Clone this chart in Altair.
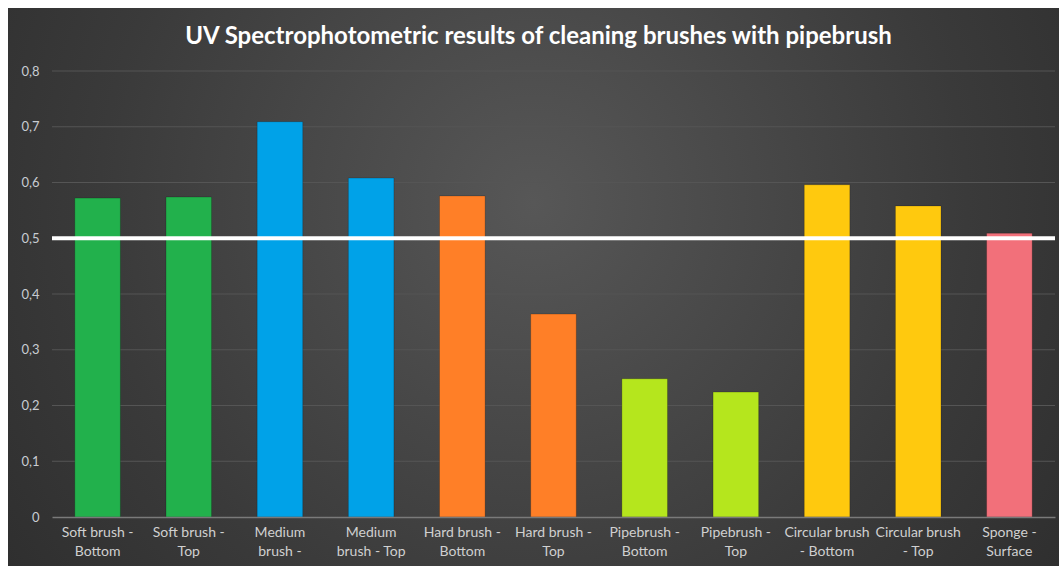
import json
import altair as alt
import pandas as pd

title_text = "UV Spectrophotometric results of cleaning brushes with pipebrush"
categories = ["Soft brush - Bottom", "Soft brush - Top", "Medium brush - Bottom",
              "Medium brush - Top", "Hard brush - Bottom", "Hard brush - Top",
              "Pipebrush - Bottom", "Pipebrush - Top", "Circular brush - Bottom",
              "Circular brush - Top", "Sponge - Surface"]
values = [0.572, 0.574, 0.709, 0.608, 0.576, 0.364, 0.248, 0.224, 0.596, 0.558, 0.509]
colors = ["#22b14c", "#22b14c", "#00a2e8", "#00a2e8", "#ff7f27", "#ff7f27",
          "#b5e61d", "#b5e61d", "#ffc90e", "#ffc90e", "#f2707a"]
label_lines = [["Soft brush -", "Bottom"], ["Soft brush -", "Top"], ["Medium", "brush -"],
               ["Medium", "brush - Top"], ["Hard brush -", "Bottom"], ["Hard brush -", "Top"],
               ["Pipebrush -", "Bottom"], ["Pipebrush -", "Top"], ["Circular brush", "- Bottom"],
               ["Circular brush", "- Top"], ["Sponge -", "Surface"]]
grid_ticks = [0.1, 0.2, 0.3, 0.4, 0.5, 0.6, 0.7, 0.8]
threshold = [0.5]

FONT = "Lato"
W, H = 1003, 446
PAD = {"left": 52, "top": 71, "right": 4, "bottom": 49}

df = pd.DataFrame({"cat": categories, "val": values})
label_map = json.dumps(dict(zip(categories, label_lines)))

xscale = alt.Scale(domain=categories, paddingInner=0.5, paddingOuter=0.25)
yscale = alt.Scale(domain=[0, 0.8], nice=False)

bg = alt.Chart(pd.DataFrame({"a": [0]})).mark_rect(
    fill=alt.RadialGradient(
        gradient="radial", x1=0.5, y1=0.42, r1=0, x2=0.5, y2=0.42, r2=0.75,
        stops=[alt.GradientStop(color="#575757", offset=0),
               alt.GradientStop(color="#3a3a3a", offset=0.55),
               alt.GradientStop(color="#272727", offset=1)]),
    stroke=None,
).encode(x=alt.value(-44), x2=alt.value(W + 4), y=alt.value(-63), y2=alt.value(H + 49))

title = alt.Chart(pd.DataFrame({"a": [0]})).mark_text(
    font=FONT, fontSize=24, fontWeight="bold", color="#ffffff",
    align="center", baseline="middle",
).encode(x=alt.value(W / 2 - 15), y=alt.value(-34), text=alt.value(title_text))

grid = alt.Chart(pd.DataFrame({"t": grid_ticks})).mark_rule(
    color="#555555", strokeWidth=1
).encode(y=alt.Y("t:Q", scale=yscale))

bars = alt.Chart(df).mark_bar(stroke="#00000033", strokeWidth=1).encode(
    x=alt.X("cat:N", scale=xscale, sort=categories, title=None,
            axis=alt.Axis(labelExpr=f"{label_map}[datum.value]", labelAngle=0,
                          labelColor="#d0d0d0", labelFont=FONT, labelFontSize=14,
                          labelLineHeight=19, labelPadding=8, labelBaseline="top",
                          ticks=False, domainColor="#7a7a7a", domainWidth=1.5,
                          zindex=1, labelLimit=200)),
    y=alt.Y("val:Q", scale=yscale, title=None,
            axis=alt.Axis(values=[0, 0.1, 0.2, 0.3, 0.4, 0.5, 0.6, 0.7, 0.8],
                          labelExpr="datum.value == 0 ? '0' : replace(format(datum.value, '.1f'), '.', ',')",
                          labelColor="#c8ccd2", labelFont=FONT, labelFontSize=13,
                          labelPadding=13, ticks=False, domain=False, grid=False, zindex=1)),
    color=alt.Color("cat:N", scale=alt.Scale(domain=categories, range=colors), legend=None),
)

rule = alt.Chart(pd.DataFrame({"t": threshold})).mark_rule(
    color="#ffffff", strokeWidth=4
).encode(y=alt.Y("t:Q", scale=yscale))

chart = alt.layer(bg, title, grid, bars, rule).properties(
    width=W, height=H,
    padding=PAD,
    autosize=alt.AutoSizeParams(type="none"),
    background="#ffffff",
).configure_view(stroke=None)

chart.save("out.html", embed_options={"renderer": "svg", "actions": False})
